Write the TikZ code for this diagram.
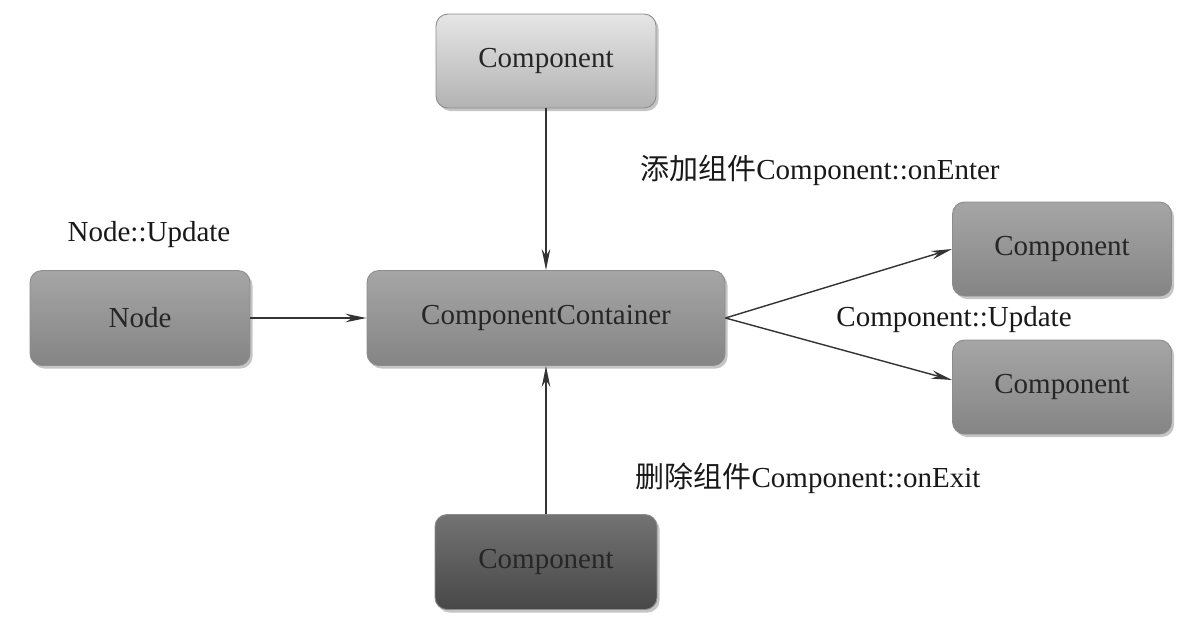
\documentclass[tikz,border=0pt]{standalone}
\usepackage{fontspec}
\setmainfont{LiberationSerif}[Extension=.ttf, UprightFont=*-Regular, BoldFont=*-Bold]
\newfontfamily\cjk{Noto Sans CJK SC}
\usetikzlibrary{arrows.meta,shadows}

\tikzset{
  box/.style={rounded corners=0.24cm, minimum width=4.4cm, minimum height=1.88cm,
    inner sep=0pt, draw=black!45, line width=0.5pt, text=black!85,
    drop shadow={opacity=0.45, shadow xshift=0.05cm, shadow yshift=-0.06cm},
    top color=black!35, bottom color=black!48},
  lightbox/.style={box, top color=black!10, bottom color=black!30},
  darkbox/.style={box, top color=black!55, bottom color=black!72},
  arr/.style={-{Stealth[length=0.42cm, width=0.17cm]}, black!80, line width=0.8pt},
  lbl/.style={text=black!90}
}

\begin{document}
\begin{tikzpicture}[font=\fontsize{16.5}{20}\selectfont]

    % Fix the canvas size
    \useasboundingbox[fill=white] (0,0) rectangle (24,-12.44);

    % Boxes
    \node[lightbox] (comptop) at (10.92,-1.22) {Component};
    \node[box, minimum width=7.16cm, minimum height=1.9cm] (container) at (10.92,-6.36) {ComponentContainer};
    \node[box, minimum height=1.9cm] (node) at (2.8,-6.36) {Node};
    \node[box, minimum width=4.38cm] (compup) at (21.24,-4.98) {Component};
    \node[box, minimum width=4.38cm] (compdown) at (21.24,-7.74) {Component};
    \node[darkbox, minimum width=4.44cm, minimum height=1.9cm] (compbot) at (10.92,-11.24) {Component};

    % Connectors
    \draw[arr] (comptop) -- (container);
    \draw[arr] (node) -- (container);
    \draw[arr] (compbot) -- (container);
    \draw[arr] (container.east) -- (compup.west);
    \draw[arr] (container.east) -- ([yshift=0.14cm]compdown.west);

    % Labels
    \node[lbl] (lblnode) at (2.98,-4.7) {Node::Update};
    \node[lbl] (lblenter) at (16.4,-3.4) {{\cjk 添加组件}Component::onEnter};
    \node[lbl] (lblupdate) at (19.08,-6.4) {Component::Update};
    \node[lbl] (lblexit) at (16.16,-9.56) {{\cjk 删除组件}Component::onExit};

\end{tikzpicture}
\end{document}
